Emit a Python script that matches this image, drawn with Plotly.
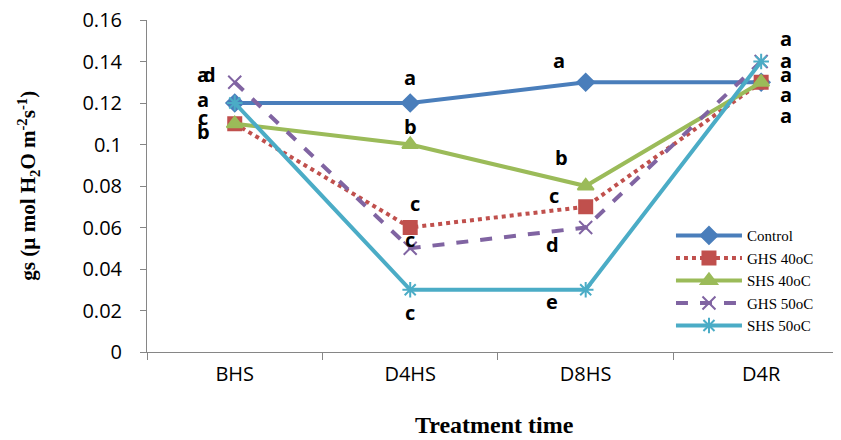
import plotly.graph_objects as go

categories = ["BHS", "D4HS", "D8HS", "D4R"]
control = [0.12, 0.12, 0.13, 0.13]
ghs40 = [0.11, 0.06, 0.07, 0.13]
shs40 = [0.11, 0.10, 0.08, 0.13]
ghs50 = [0.13, 0.05, 0.06, 0.14]
shs50 = [0.12, 0.03, 0.03, 0.14]
y_ticks = [0, 0.02, 0.04, 0.06, 0.08, 0.1, 0.12, 0.14, 0.16]
y_tick_text = ["0", "0.02", "0.04", "0.06", "0.08", "0.1", "0.12", "0.14", "0.16"]

# significance letters: (category index, x offset, y value, letter)
letters = [
    (0, -0.18, 0.1335, "a"), (0, -0.145, 0.1335, "d"), (0, -0.18, 0.1215, "a"),
    (0, -0.18, 0.1130, "c"), (0, -0.18, 0.1065, "b"),
    (1, 0.0, 0.1325, "a"), (1, 0.0, 0.1085, "b"), (1, 0.03, 0.0718, "c"),
    (1, 0.0, 0.0540, "c"), (1, 0.0, 0.0188, "c"),
    (2, -0.15, 0.1407, "a"), (2, -0.14, 0.0935, "b"), (2, -0.18, 0.0752, "c"),
    (2, -0.19, 0.0516, "d"), (2, -0.19, 0.0241, "e"),
    (3, 0.14, 0.1513, "a"), (3, 0.14, 0.1407, "a"), (3, 0.14, 0.1335, "a"),
    (3, 0.14, 0.1239, "a"), (3, 0.14, 0.1142, "a"),
]

series = [
    ("Control", control, "#4A7EBB", "solid", "diamond", 13),
    ("GHS 40oC", ghs40, "#C0504D", "dot", "square", 13),
    ("SHS 40oC", shs40, "#9BBB59", "solid", "triangle-up", 14),
    ("GHS 50oC", ghs50, "#8064A2", "dash", "x-thin-open", 13),
    ("SHS 50oC", shs50, "#4BACC6", "solid", "asterisk-open", 13),
]

fig = go.Figure()
for name, vals, color, dash, sym, size in series:
    fig.add_trace(go.Scatter(
        x=categories, y=vals, name=name, mode="lines+markers",
        line=dict(color=color, width=4, dash=dash),
        marker=dict(symbol=sym, size=size, color=color,
                    line=dict(color=color, width=2)),
    ))

for idx, dx, yv, txt in letters:
    fig.add_annotation(x=idx + dx, y=yv, xref="x", yref="y", text=txt,
                       showarrow=False,
                       font=dict(family="Open Sans", size=20, color="black", weight="bold"))

# axis titles
fig.add_annotation(x=-0.172, y=0.5, xref="paper", yref="paper", xanchor="center", yanchor="middle",
                   text="<b>gs (µ mol H<sub>2</sub>O m<sup>-2</sup>s<sup>-1</sup>)</b>",
                   textangle=-90, showarrow=False,
                   font=dict(family="Liberation Serif", size=21, color="black"))
fig.add_annotation(x=0.5, y=-0.22, xref="paper", yref="paper", xanchor="center", yanchor="middle",
                   text="<b>Treatment time</b>", showarrow=False,
                   font=dict(family="Liberation Serif", size=24, color="black"))

fig.update_layout(
    width=841, height=440,
    margin=dict(l=139, r=8, t=12, b=96, autoexpand=False),
    paper_bgcolor="white", plot_bgcolor="white",
    showlegend=True,
    legend=dict(x=0.755, y=0.40, xanchor="left", yanchor="top",
                font=dict(family="Liberation Serif", size=15, color="black"),
                bgcolor="rgba(255,255,255,0)", tracegroupgap=0, itemwidth=66),
    xaxis=dict(type="category", range=[-0.5, 3.455], showline=True, automargin=False,
               linecolor="#868686", linewidth=1, ticks="outside", tickson="boundaries",
               ticklen=7, tickcolor="#868686", showgrid=False, zeroline=False,
               ticklabelstandoff=4, ticklabeloverflow="allow",
               tickfont=dict(family="Open Sans", size=20, color="black")),
    yaxis=dict(range=[0, 0.16], tickvals=y_ticks, ticktext=y_tick_text, showline=True,
               automargin=False, ticklabeloverflow="allow",
               linecolor="#868686", linewidth=1, ticks="outside", ticklen=6,
               tickcolor="#868686", showgrid=False, zeroline=False,
               ticklabelstandoff=14,
               tickfont=dict(family="Open Sans", size=20, color="black")),
)

fig.write_html("out.html")
